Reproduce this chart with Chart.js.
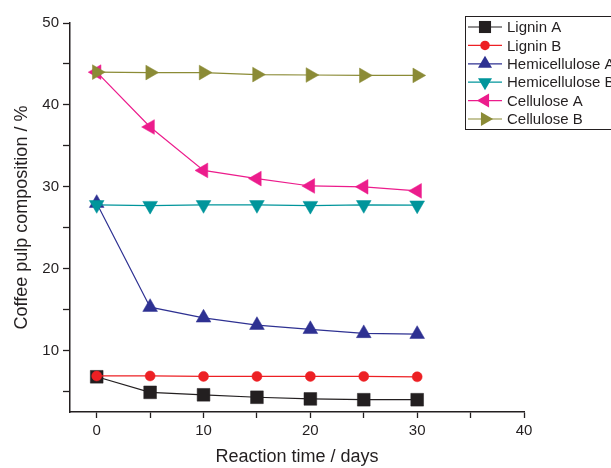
<!DOCTYPE html>
<html>
<head>
<meta charset="utf-8">
<script src="https://cdn.jsdelivr.net/npm/chart.js@4.4.0/dist/chart.umd.min.js"></script>
<style>
  html, body { margin: 0; padding: 0; background: #fff; }
  #wrap { width: 611px; height: 468px; position: relative; }
</style>
</head>
<body>
<div id="wrap"><canvas id="chart"></canvas></div>
<script>
// Data
var days = [0, 5, 10, 15, 20, 25, 30];
var ligninA = [6.8, 4.9, 4.6, 4.3, 4.1, 4.0, 4.0];
var ligninB = [6.9, 6.9, 6.85, 6.85, 6.85, 6.85, 6.8];
var hemiA = [28.0, 15.3, 14.0, 13.1, 12.6, 12.1, 12.0];
var hemiB = [27.8, 27.7, 27.8, 27.8, 27.7, 27.8, 27.75];
var celluA = [44.0, 37.3, 32.0, 31.0, 30.1, 30.0, 29.5];
var celluB = [44.0, 43.95, 43.95, 43.7, 43.65, 43.6, 43.6];

var seriesNames = ["Lignin A", "Lignin B", "Hemicellulose A", "Hemicellulose B", "Cellulose A", "Cellulose B"];
var seriesValues = [ligninA, ligninB, hemiA, hemiB, celluA, celluB];

// marker look for each series
var colors = ["#231f20", "#ed2024", "#2e3192", "#00959b", "#ec1c8c", "#8b8b36"];
var shapes = ["rect", "circle", "triangle", "triangle", "triangle", "triangle"];
var rotations = [0, 0, 0, 180, 270, 90];
var radii = [9, 5, 8.5, 8.5, 8.5, 8.5];

var datasets = [];
for (let i = 0; i < seriesNames.length; i++) {
  datasets.push({
    label: seriesNames[i],
    data: days.map(function(d, j) { return {x: d, y: seriesValues[i][j]}; }),
    order: seriesNames.length - i, // later series drawn on top
    borderColor: colors[i],
    backgroundColor: colors[i],
    borderWidth: 1.2,
    pointStyle: shapes[i],
    pointRotation: rotations[i],
    pointRadius: radii[i],
    pointBorderWidth: 0.5,
    pointBorderColor: colors[i],
    pointBackgroundColor: colors[i],
    tension: 0
  });
}

// Legend drawn by hand: line with marker through it, inside a box
var boxLegend = {
  id: 'boxLegend',
  afterDraw: function(chart) {
    var ctx = chart.ctx;
    ctx.save();
    ctx.strokeStyle = "#231f20";
    ctx.lineWidth = 1;
    ctx.strokeRect(465.5, 16.5, 160, 113);
    ctx.font = "15px 'Liberation Sans', Arial, sans-serif";
    ctx.textBaseline = "middle";
    for (let i = 0; i < seriesNames.length; i++) {
      var y = 27 + i * 18.4;
      ctx.strokeStyle = colors[i];
      ctx.lineWidth = 1.2;
      ctx.beginPath();
      ctx.moveTo(468, y);
      ctx.lineTo(502, y);
      ctx.stroke();
      ctx.fillStyle = colors[i];
      Chart.helpers.drawPoint(ctx, {pointStyle: shapes[i], rotation: rotations[i], radius: radii[i] * 0.95, borderWidth: 0}, 485, y);
      ctx.fillStyle = "#231f20";
      ctx.fillText(seriesNames[i], 507, y + 1);
    }
    ctx.restore();
  }
};

var tickFont = {family: "'Liberation Sans', Arial, sans-serif", size: 15};
var titleFont = {family: "'Liberation Sans', Arial, sans-serif", size: 18};

new Chart(document.getElementById("chart"), {
  type: 'line',
  data: {datasets: datasets},
  options: {
    responsive: true,
    maintainAspectRatio: false,
    animation: false,
    layout: {padding: {top: 23, right: 87, left: 0, bottom: 0}},
    plugins: {legend: {display: false}, tooltip: {enabled: false}},
    scales: {
      x: {
        type: 'linear',
        min: -2.5,
        max: 40,
        afterFit: function(scale) { scale.height = 56; },
        border: {display: true, color: "#231f20", width: 1.5},
        grid: {drawOnChartArea: false, tickLength: 6, color: "#231f20", tickWidth: 1.3},
        ticks: {
          stepSize: 5,
          includeBounds: false,
          color: "#231f20",
          font: tickFont,
          padding: 4,
          maxRotation: 0,
          autoSkip: false,
          callback: function(v) { return v % 10 === 0 ? v : ''; }
        },
        title: {display: true, text: "Reaction time / days", color: "#231f20", font: titleFont, padding: {top: 4, bottom: 0}}
      },
      y: {
        min: 2.5,
        max: 50,
        afterFit: function(scale) { scale.width = 70; },
        border: {display: true, color: "#231f20", width: 1.5},
        grid: {drawOnChartArea: false, tickLength: 7, color: "#231f20", tickWidth: 1.3},
        ticks: {
          stepSize: 5,
          includeBounds: false,
          color: "#231f20",
          font: tickFont,
          padding: 4,
          autoSkip: false,
          callback: function(v) { return v % 10 === 0 ? v : ''; }
        },
        title: {display: true, text: "Coffee pulp composition / %", color: "#231f20", font: titleFont, padding: {top: 11, bottom: 0}}
      }
    }
  },
  plugins: [boxLegend]
});
</script>
</body>
</html>
